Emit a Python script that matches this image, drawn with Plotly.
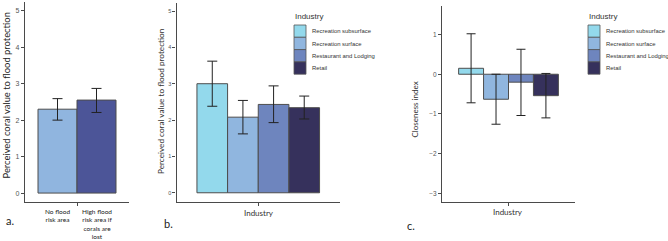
import plotly.graph_objects as go

# ---------------- data ----------------
a_labels = ["No flood<br>risk area", "High flood<br>risk area if<br>corals are<br>lost"]
a_values = [2.30, 2.55]
a_low = [2.00, 2.21]
a_high = [2.59, 2.87]
a_colors = ["#90B5DF", "#4C5598"]

industries = ["Recreation subsurface", "Recreation surface", "Restaurant and Lodging", "Retail"]
ind_colors = ["#93D9EC", "#90B6DF", "#6E85BE", "#36315C"]

b_values = [3.00, 2.08, 2.43, 2.34]
b_low = [2.38, 1.62, 1.93, 2.03]
b_high = [3.62, 2.54, 2.94, 2.66]

c_values = [0.15, -0.63, -0.20, -0.54]
c_low = [-0.72, -1.26, -1.04, -1.10]
c_high = [1.02, 0.00, 0.63, 0.02]

y_title = "Perceived coral value to flood protection"
c_title = "Closeness index"
x_title = "Industry"
legend_title = "Industry"

W, H = 668, 241
def px(x):
    return x / W
def py(y):
    return 1 - y / H

BAR_LINE = dict(color="#4d4d4d", width=1)
ERR_COL = "#222222"
FONT = "Lato"
TICKF = "Liberation Sans"

fig = go.Figure()

# Panel a
for i in range(len(a_values)):
    fig.add_trace(go.Bar(
        x=["flood"], y=[a_values[i]], xaxis="x", yaxis="y",
        marker=dict(color=a_colors[i], line=BAR_LINE),
        error_y=dict(type="data", array=[a_high[i] - a_values[i]],
                     arrayminus=[a_values[i] - a_low[i]],
                     color=ERR_COL, thickness=1, width=5),
        showlegend=False, hoverinfo="skip"))

# Panel b
for i in range(len(industries)):
    fig.add_trace(go.Bar(
        x=[x_title], y=[b_values[i]], xaxis="x2", yaxis="y2", name=industries[i],
        marker=dict(color=ind_colors[i], line=BAR_LINE),
        error_y=dict(type="data", array=[b_high[i] - b_values[i]],
                     arrayminus=[b_values[i] - b_low[i]],
                     color=ERR_COL, thickness=1, width=5),
        showlegend=False))

# Panel c
for i in range(len(industries)):
    fig.add_trace(go.Bar(
        x=[x_title], y=[c_values[i]], xaxis="x3", yaxis="y3", name=industries[i],
        marker=dict(color=ind_colors[i], line=BAR_LINE),
        error_y=dict(type="data", array=[c_high[i] - c_values[i]],
                     arrayminus=[c_values[i] - c_low[i]],
                     color=ERR_COL, thickness=1, width=4.5),
        showlegend=False))

def xax(domain, anchor):
    return dict(domain=domain, anchor=anchor, showline=True, linecolor="#4a4a4a", linewidth=1.3,
                ticks="outside", ticklen=3, tickcolor="#4a4a4a", showgrid=False, zeroline=False,
                showticklabels=False, fixedrange=True)

def yax(domain, anchor, rng, tickvals, size):
    return dict(domain=domain, anchor=anchor, range=rng, tickvals=tickvals,
                showline=True, linecolor="#4a4a4a", linewidth=1.3,
                ticks="outside", ticklen=3, tickcolor="#4a4a4a", showgrid=False, zeroline=False,
                tickfont=dict(family=TICKF, size=size, color="#555555"), fixedrange=True)

fig.update_layout(
    width=W, height=H, margin=dict(l=0, r=0, t=0, b=0),
    paper_bgcolor="white", plot_bgcolor="white",
    barmode="group", bargap=0.25, bargroupgap=0,
    showlegend=False,
    xaxis=xax([px(25), px(129)], "y"),
    yaxis=yax([py(202), py(2)], "x", [-0.245, 5.24], [0, 1, 2, 3, 4, 5], 7),
    xaxis2=xax([px(176.5), px(340)], "y2"),
    yaxis2=yax([py(201.5), py(3)], "x2", [-0.24, 5.22], [0, 1, 2, 3, 4, 5], 5.5),
    xaxis3=xax([px(442), px(575)], "y3"),
    yaxis3=yax([py(202), py(6)], "x3", [-3.22, 1.72], [-3, -2, -1, 0, 1], 6.5),
)

ann = []
def txt(x, y, text, size, color="#333333", family=FONT, xanchor="center", angle=0):
    ann.append(dict(x=px(x), y=py(y), xref="paper", yref="paper", text=text,
                    textangle=angle, showarrow=False, xanchor=xanchor, yanchor="middle",
                    font=dict(family=family, size=size, color=color)))

# panel a category labels, placed at grouped bar centres
g = 1 - 0.25
n = len(a_labels)
for i, lab in enumerate(a_labels):
    xc = -g / 2 + (i + 0.5) * g / n
    ann.append(dict(x=xc, xref="x", y=py(205.5), yref="paper", text=lab, showarrow=False,
                    xanchor="center", yanchor="top", align="center",
                    font=dict(family=FONT, size=6.5, color="#222222")))

# axis titles
txt(6.5, 96, y_title, 9.4, "#222222", angle=-90)
txt(161, 101, y_title, 8.2, angle=-90)
txt(414.5, 110, c_title, 8.0, angle=-90)
txt(259, 213, x_title, 8.0)
txt(508, 212, x_title, 8.0)
# panel letters
for letter, x, y in [("a.", 10, 220), ("b.", 168, 223), ("c.", 411, 225)]:
    txt(x, y, letter, 11, "#222222")

# manual legends
shapes = []
for lx in [294, 588]:
    txt(lx - 1, 17, legend_title, 8.0, family=TICKF, xanchor="left")
    for i, name in enumerate(industries):
        top = 25 + i * 12.3
        shapes.append(dict(type="rect", xref="paper", yref="paper",
                           x0=px(lx), x1=px(lx + 12), y0=py(top + 12.3), y1=py(top),
                           fillcolor=ind_colors[i], line=dict(color="#555555", width=0.8)))
        txt(lx + 15.5, top + 6.2, name, 5.9, family=TICKF, xanchor="left")

fig.update_layout(annotations=ann, shapes=shapes)
fig.write_html("out.html", config={"displayModeBar": False},
               post_script="document.body.style.margin='0';document.body.style.overflow='hidden';")
